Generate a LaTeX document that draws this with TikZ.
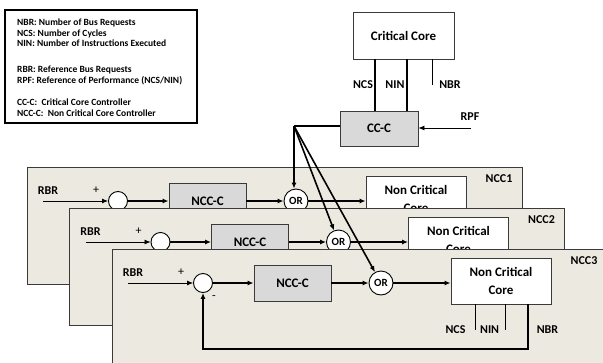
\documentclass[tikz,border=0pt]{standalone}
\usepackage{fontspec}
\setmainfont{Carlito}
\usetikzlibrary{arrows.meta}
\definecolor{panelfill}{HTML}{ECEAE0}
\definecolor{boxgray}{HTML}{D9D9D9}
\definecolor{edgecol}{HTML}{3A3A3A}
\tikzset{
 panel/.style={draw=edgecol, line width=0.9pt, fill=panelfill},
 ctrl/.style={draw=edgecol, line width=0.9pt, fill=boxgray, minimum width=77pt, minimum height=36pt, inner sep=0pt, font=\bfseries\fontsize{13}{15}\selectfont},
 corebox/.style={draw=edgecol, line width=0.9pt, fill=white, minimum width=100pt, minimum height=46pt, inner sep=0pt, align=center, font=\bfseries\fontsize{13}{18}\selectfont},
 sumc/.style={circle, draw=black, line width=0.9pt, fill=white, minimum size=19pt, inner sep=0pt},
 orc/.style={circle, draw=black, line width=0.9pt, fill=white, minimum size=24pt, inner sep=0pt, font=\bfseries\fontsize{11}{13}\selectfont},
 lbl/.style={font=\bfseries\fontsize{12}{14}\selectfont, inner sep=0pt},
 sgn/.style={font=\fontsize{12}{14}\selectfont, inner sep=0pt},
 sig/.style={line width=0.8pt, -{Latex[length=6pt,width=5pt]}},
 thn/.style={line width=0.8pt},
 thk/.style={line width=1.7pt},
 thkarrow/.style={line width=1.6pt, -{Latex[length=6pt,width=5pt]}},
}
\newcommand\nccpanel[2]{%
 \begin{scope}[shift={(42.5*#1,41*#1)}]
  \path[panel] (27,167) rectangle (522,284);
  \node[lbl] (rbr#1) at (48,191) {RBR};
  \coordinate (in#1) at (43,201);
  \node[sumc] (sum#1) at (118,201) {};
  \node[sgn] (plus#1) at (96,190) {+};
  \node[sgn] (minus#1) at (129,216) {-};
  \node[ctrl] (ncc#1) at (207.5,201) {NCC-C};
  \node[orc] (or#1) at (296,201) {OR};
  \node[corebox] (core#1) at (416,199) {Non Critical\\Core};
  \node[lbl] (name#1) at (499,179) {#2};
  \draw[sig] (in#1) -- (sum#1);
  \draw[thkarrow] (sum#1) -- (ncc#1);
  \draw[thkarrow] (ncc#1) -- (or#1);
  \draw[thkarrow] (or#1) -- (core#1.west |- or#1);
  \coordinate (ncsend#1) at (390,248);
  \coordinate (ninend#1) at (420,248);
  \coordinate (fb#1) at (443,267);
  \draw[thn] (ncsend#1 |- core#1.south) -- (ncsend#1);
  \draw[thn] (ninend#1 |- core#1.south) -- (ninend#1);
  \draw[thkarrow] (fb#1 |- core#1.south) -- (fb#1) -| (sum#1.south);
  \node[lbl] (ncs#1) at (370.5,248) {NCS};
  \node[lbl] (nin#1) at (404.6,248) {NIN};
  \node[lbl] (nbr#1) at (462.5,248) {NBR};
 \end{scope}}
\begin{document}
\begin{tikzpicture}[x=1pt,y=-1pt]
\useasboundingbox (0,0) rectangle (603,362);
\begin{scope}
\clip (0,0) rectangle (603,362);
\fill[white] (0,0) rectangle (603,362);
\nccpanel{0}{NCC1}
\nccpanel{1}{NCC2}
\nccpanel{2}{NCC3}
\end{scope}
% legend
\node[draw=black, line width=1.6pt, minimum width=192pt, minimum height=113pt, inner sep=0pt] (legend) at (101,66.5) {};
\node[anchor=north west, align=left, inner sep=0pt, font=\bfseries\fontsize{9.5}{10.7}\selectfont] (legtext) at (17,18.5) {NBR: Number of Bus Requests\\NCS: Number of Cycles\\NIN: Number of Instructions Executed\\[15pt]RBR: Reference Bus Requests\\RPF: Reference of Performance (NCS/NIN)\\[12pt]CC-C:\ \ Critical Core Controller\\NCC-C:\ \ Non Critical Core Controller};
% critical core
\node[draw=edgecol, line width=0.9pt, fill=white, minimum width=101pt, minimum height=47pt, inner sep=0pt, font=\bfseries\fontsize{13}{15}\selectfont] (cc) at (403.5,35.5) {Critical Core};
\node[ctrl, minimum width=78pt, minimum height=35pt] (ccc) at (379,128.5) {CC-C};
\coordinate (xncs) at (375,0);
\coordinate (xnin) at (407,0);
\coordinate (nbrend) at (432,85);
\draw[thk] (xncs |- cc.south) -- (xncs |- ccc.north);
\draw[thk] (xnin |- cc.south) -- (xnin |- ccc.north);
\draw[thn] (nbrend |- cc.south) -- (nbrend);
\node[lbl] (ccncs) at (363,85) {NCS};
\node[lbl] (ccnin) at (395,85) {NIN};
\node[lbl] (ccnbr) at (450,85) {NBR};
\coordinate (rpfin) at (471,128);
\draw[sig] (rpfin) -- (rpfin -| ccc.east);
\node[lbl] (rpf) at (470,117) {RPF};
% control outputs
\coordinate (split) at (294,126);
\draw[thk] (split -| ccc.west) -- (split);
\draw[thkarrow] (split) -- (split |- or0.north);
\draw[thkarrow] (split) -- (or1);
\draw[thkarrow] (split) -- (or2);
\end{tikzpicture}
\end{document}
